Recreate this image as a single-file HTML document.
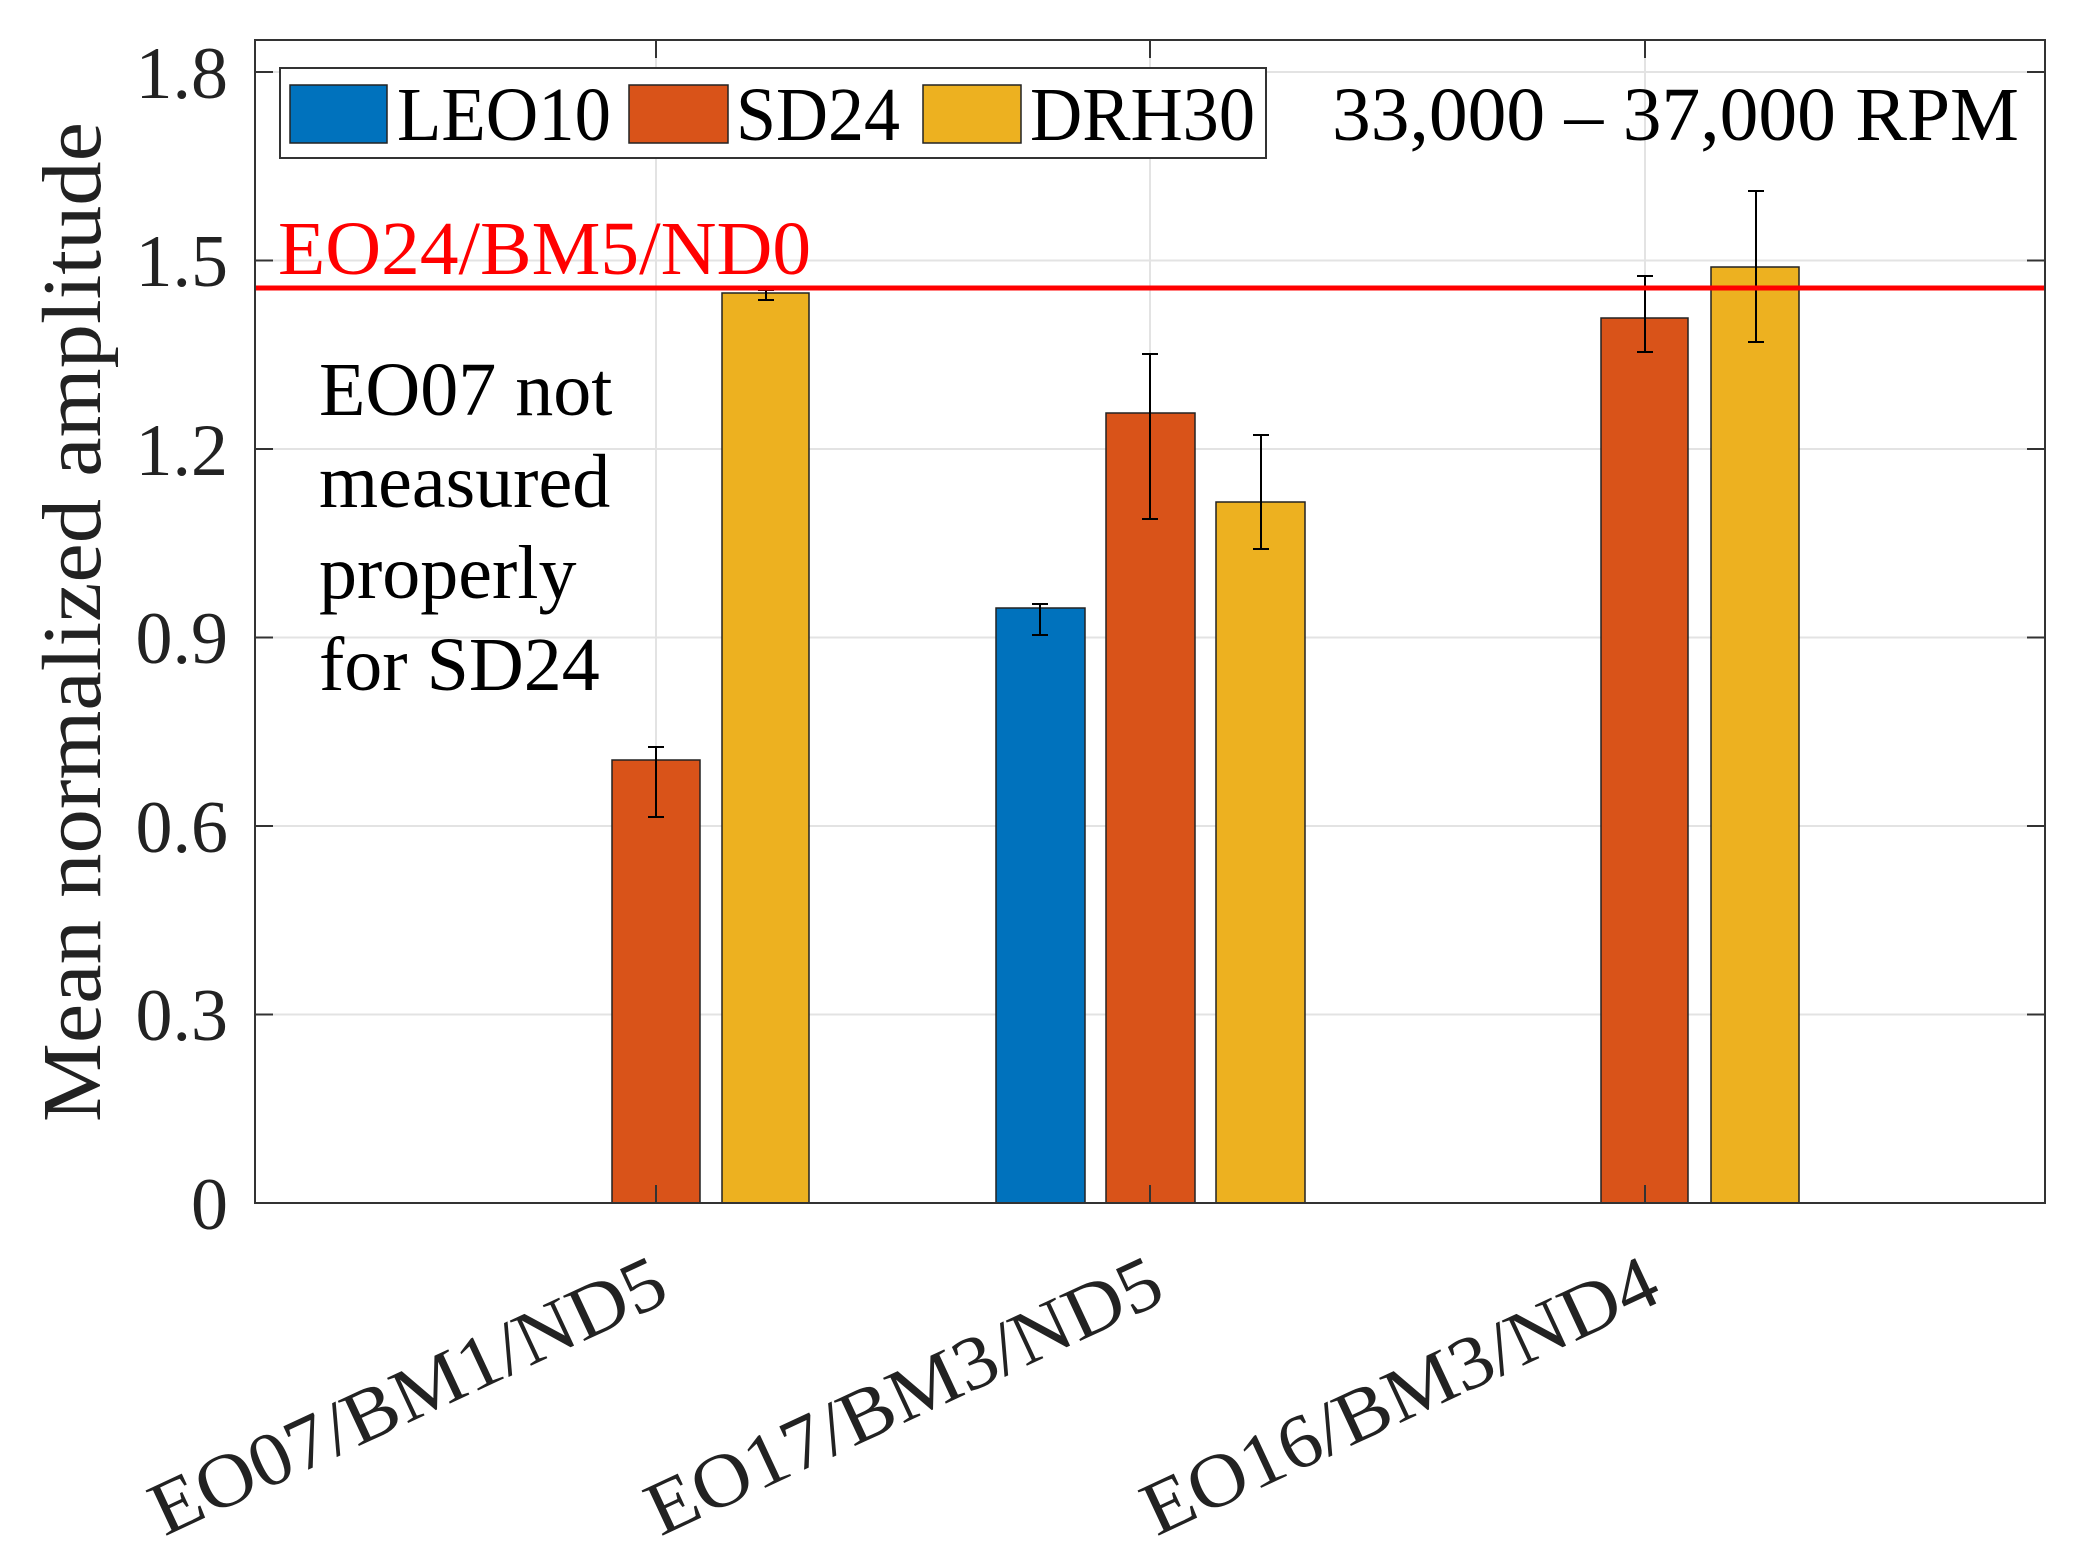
<!DOCTYPE html>
<html><head><meta charset="utf-8"><style>html,body{margin:0;padding:0;background:#fff}svg{display:block}</style></head>
<body>
<svg width="2085" height="1567" viewBox="0 0 2085 1567" xmlns="http://www.w3.org/2000/svg" font-family="Liberation Serif, serif">
<rect width="2085" height="1567" fill="#fff"/>
<g stroke="#e3e3e3" stroke-width="2">
<line x1="255" y1="72" x2="2045" y2="72"/><line x1="255" y1="260.5" x2="2045" y2="260.5"/>
<line x1="255" y1="449" x2="2045" y2="449"/><line x1="255" y1="637.5" x2="2045" y2="637.5"/>
<line x1="255" y1="826" x2="2045" y2="826"/><line x1="255" y1="1014.5" x2="2045" y2="1014.5"/>
<line x1="656" y1="40" x2="656" y2="1203"/><line x1="1150" y1="40" x2="1150" y2="1203"/><line x1="1645" y1="40" x2="1645" y2="1203"/>
</g>
<g stroke="#222" stroke-width="1.5">
<rect x="612" y="760" width="88" height="443" fill="#d95319"/>
<rect x="722" y="293" width="87" height="910" fill="#edb120"/>
<rect x="996" y="608" width="89" height="595" fill="#0072bd"/>
<rect x="1106" y="413" width="89" height="790" fill="#d95319"/>
<rect x="1216" y="502" width="89" height="701" fill="#edb120"/>
<rect x="1601" y="318" width="87" height="885" fill="#d95319"/>
<rect x="1711" y="267" width="88" height="936" fill="#edb120"/>
</g>
<g stroke="#000" stroke-width="2">
<path d="M656 747V817M648 747H664M648 817H664"/>
<path d="M766 290V300M758 290H774M758 300H774"/>
<path d="M1040 604V635M1032 604H1048M1032 635H1048"/>
<path d="M1150 354V519M1142 354H1158M1142 519H1158"/>
<path d="M1261 435V549M1253 435H1269M1253 549H1269"/>
<path d="M1645 276V352M1637 276H1653M1637 352H1653"/>
<path d="M1756 191V342M1748 191H1764M1748 342H1764"/>
</g>
<line x1="255" y1="288" x2="2045" y2="288" stroke="#ff0000" stroke-width="5"/>
<rect x="255" y="40" width="1790" height="1163" fill="none" stroke="#333" stroke-width="2"/>
<g stroke="#333" stroke-width="2">
<path d="M255 72h18M255 260.5h18M255 449h18M255 637.5h18M255 826h18M255 1014.5h18"/>
<path d="M2045 72h-18M2045 260.5h-18M2045 449h-18M2045 637.5h-18M2045 826h-18M2045 1014.5h-18"/>
<path d="M656 1203v-18M1150 1203v-18M1645 1203v-18M656 40v18M1150 40v18M1645 40v18"/>
</g>
<g font-size="74" fill="#222" text-anchor="end">
<text x="228" y="98">1.8</text><text x="228" y="286">1.5</text><text x="228" y="475">1.2</text>
<text x="228" y="663">0.9</text><text x="228" y="852">0.6</text><text x="228" y="1040">0.3</text><text x="228" y="1229">0</text>
</g>
<text transform="translate(100,622) rotate(-90)" font-size="84" text-anchor="middle" fill="#222" textLength="1000" lengthAdjust="spacingAndGlyphs">Mean normalized amplitude</text>
<g font-size="76" fill="#222" text-anchor="end">
<text transform="translate(672,1300) rotate(-25)" textLength="560" lengthAdjust="spacingAndGlyphs">EO07/BM1/ND5</text>
<text transform="translate(1168,1300) rotate(-25)" textLength="560" lengthAdjust="spacingAndGlyphs">EO17/BM3/ND5</text>
<text transform="translate(1664,1300) rotate(-25)" textLength="560" lengthAdjust="spacingAndGlyphs">EO16/BM3/ND4</text>
</g>
<rect x="280" y="68" width="986" height="90" fill="#fff" stroke="#333" stroke-width="2"/>
<rect x="290" y="85" width="97" height="58" fill="#0072bd" stroke="#222" stroke-width="1.5"/>
<rect x="629" y="85" width="99" height="58" fill="#d95319" stroke="#222" stroke-width="1.5"/>
<rect x="923" y="85" width="98" height="58" fill="#edb120" stroke="#222" stroke-width="1.5"/>
<g font-size="76" fill="#000">
<text x="397" y="140" textLength="214" lengthAdjust="spacingAndGlyphs">LEO10</text>
<text x="736" y="140" textLength="164" lengthAdjust="spacingAndGlyphs">SD24</text>
<text x="1030" y="140" textLength="225" lengthAdjust="spacingAndGlyphs">DRH30</text>
<text x="1332" y="140" textLength="687" lengthAdjust="spacingAndGlyphs">33,000 – 37,000 RPM</text>
<text x="278" y="274" fill="#ff0000" textLength="533" lengthAdjust="spacingAndGlyphs">EO24/BM5/ND0</text>
<text x="319" y="415">EO07 not</text>
<text x="319" y="507">measured</text>
<text x="319" y="598">properly</text>
<text x="319" y="690">for SD24</text>
</g>
</svg>
</body></html>
